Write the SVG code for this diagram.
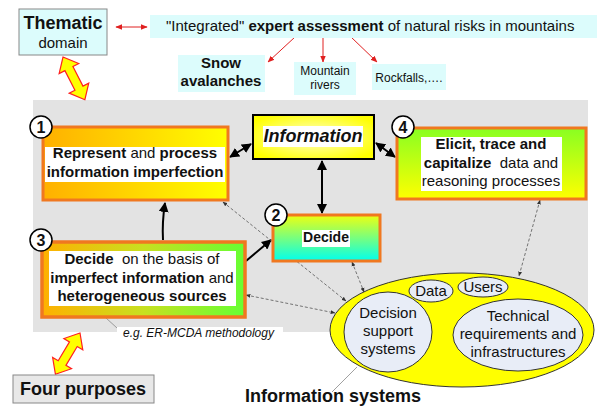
<svg xmlns="http://www.w3.org/2000/svg" width="597" height="408" viewBox="0 0 597 408">
<style>
text{font-family:"Liberation Sans",Arial,sans-serif;fill:#111}
.b{font-weight:bold}
.c{text-anchor:middle}
.cy{fill:#dcfcfc}
.pb{fill:#ffffff}
.ob{stroke:#f07820;stroke-width:3}
.num{fill:#fff;stroke:#000;stroke-width:1.5}
.blk{stroke:#000;stroke-width:2;fill:none;marker-end:url(#ab);marker-start:url(#ab)}
.red{stroke:#e02020;stroke-width:1;fill:none;marker-end:url(#ar)}
.dash{stroke:#555;stroke-width:0.8;stroke-dasharray:3 2;fill:none;marker-end:url(#ad);marker-start:url(#ad)}
.call{stroke:#888;stroke-width:0.8;fill:none}
.inner{fill:#e8edf7;stroke:#333;stroke-width:1}
.fat{fill:#ffff00;stroke:#ff2020;stroke-width:1.2}
</style>
<defs>
<marker id="ab" viewBox="0 0 10 10" refX="9" refY="5" markerWidth="5" markerHeight="5" orient="auto-start-reverse"><path d="M0,0 L10,5 L0,10 z" fill="#000"/></marker>
<marker id="ar" viewBox="0 0 10 10" refX="9" refY="5" markerWidth="7" markerHeight="7" orient="auto-start-reverse"><path d="M0,1 L10,5 L0,9 z" fill="#e02020"/></marker>
<marker id="ad" viewBox="0 0 10 10" refX="9" refY="5" markerWidth="6" markerHeight="6" orient="auto-start-reverse"><path d="M0,1 L10,5 L0,9 z" fill="#333"/></marker>
<linearGradient id="g1" x1="0" y1="0" x2="1" y2="0"><stop offset="0" stop-color="#ffb000"/><stop offset="1" stop-color="#ffff00"/></linearGradient>
<linearGradient id="g3" x1="0" y1="0" x2="1" y2="0"><stop offset="0" stop-color="#ffb000"/><stop offset="0.5" stop-color="#c8e020"/><stop offset="1" stop-color="#66ff33"/></linearGradient>
<linearGradient id="g4" x1="0" y1="0" x2="0" y2="1"><stop offset="0" stop-color="#88ff22"/><stop offset="1" stop-color="#ffff00"/></linearGradient>
<linearGradient id="g2" x1="0" y1="0" x2="0" y2="1"><stop offset="0" stop-color="#eeff10"/><stop offset="1" stop-color="#00ffee"/></linearGradient>
<radialGradient id="gi" cx="0.5" cy="0.5" r="0.6"><stop offset="0" stop-color="#ffffd0"/><stop offset="1" stop-color="#ffff00"/></radialGradient>
<path id="fat" d="M0,0 L13,-11 L13,-4.5 L35,-4.5 L35,-11 L48,0 L35,11 L35,4.5 L13,4.5 L13,11 Z"/>
</defs>

<!-- background -->
<rect x="33" y="100" width="555" height="232" fill="#e3e3e3"/>

<g id="connectors">
  <!-- red top arrows -->
  <line x1="116" y1="27" x2="147" y2="27" class="red" marker-start="url(#ar)"/>
  <line x1="295" y1="37" x2="268" y2="62" class="red"/>
  <line x1="323" y1="37" x2="323" y2="62" class="red"/>
  <line x1="351" y1="37" x2="377" y2="62" class="red"/>
  <!-- fat yellow arrows -->
  <use href="#fat" class="fat" transform="translate(63,57) rotate(62.9)"/>
  <use href="#fat" class="fat" transform="translate(80,333) rotate(120.8)"/>
  <!-- black connectors -->
  <line x1="230" y1="157" x2="251" y2="144" class="blk"/>
  <line x1="376" y1="143" x2="395" y2="157" class="blk"/>
  <line x1="322" y1="161" x2="322" y2="213" class="blk"/>
  <path d="M163,240 Q162,222 165,203" stroke="#000" stroke-width="2" fill="none" marker-end="url(#ab)"/>
  <line x1="246" y1="261" x2="271" y2="240" stroke="#000" stroke-width="2" marker-end="url(#ab)"/>
  <!-- dashed -->
  <line x1="223" y1="202" x2="346" y2="301" class="dash"/>
  <line x1="246" y1="295" x2="335" y2="313" class="dash"/>
  <line x1="352" y1="262" x2="364" y2="292" class="dash"/>
  <line x1="540" y1="200" x2="519" y2="276" class="dash"/>
  <!-- callouts -->
  <line x1="106" y1="318" x2="117" y2="328" class="call"/>
  <line x1="357" y1="367" x2="332" y2="392" class="call"/>
</g>

<g id="thematic">
  <rect x="19" y="9" width="88" height="46" class="cy" stroke="#888" stroke-width="1"/>
  <text x="63" y="29" class="b c" font-size="18">Thematic</text>
  <text x="63" y="48" class="c" font-size="15">domain</text>
</g>

<g id="assessment">
  <rect x="150" y="15" width="447" height="23" class="cy"/>
  <text x="166" y="31" font-size="15">"Integrated" <tspan class="b">expert assessment</tspan> of natural risks in mountains</text>
</g>

<g id="snow">
  <rect x="178" y="55" width="87" height="37" class="cy"/>
  <text x="221" y="68" class="b c" font-size="15">Snow</text>
  <text x="221" y="86" class="b c" font-size="15">avalanches</text>
</g>

<g id="rivers">
  <rect x="294" y="62" width="62" height="33" class="cy"/>
  <text x="325" y="75" class="c" font-size="12">Mountain</text>
  <text x="325" y="89" class="c" font-size="12">rivers</text>
</g>

<g id="rockfalls">
  <rect x="372" y="64" width="74" height="26" class="cy"/>
  <text x="409" y="82" class="c" font-size="12">Rockfalls,….</text>
</g>

<g id="purpose1">
  <rect x="43" y="127" width="185" height="73" fill="url(#g1)" class="ob"/>
  <rect x="45" y="147" width="180" height="35" class="pb"/>
  <text x="135" y="158" class="c" font-size="15"><tspan class="b">Represent</tspan> and <tspan class="b">process</tspan></text>
  <text x="135" y="177" class="b c" font-size="15">information imperfection</text>
  <circle cx="41" cy="127" r="11" class="num"/>
  <text x="41" y="133" class="b c" font-size="16">1</text>
</g>

<g id="information">
  <rect x="253" y="115" width="121" height="44" fill="url(#gi)" stroke="#000" stroke-width="2"/>
  <rect x="263" y="126" width="100" height="21" class="pb"/>
  <text x="313" y="142" class="b c" font-size="18" font-style="italic">Information</text>
</g>

<g id="purpose4">
  <rect x="397" y="128" width="189" height="71" fill="url(#g4)" class="ob"/>
  <rect x="421" y="137" width="141" height="54" class="pb"/>
  <text x="491" y="149" class="b c" font-size="15">Elicit, trace and</text>
  <text x="491" y="168" class="c" font-size="15"><tspan class="b">capitalize</tspan>&#160; data and</text>
  <text x="491" y="186" class="c" font-size="15">reasoning processes</text>
  <circle cx="403" cy="127" r="11" class="num"/>
  <text x="403" y="133" class="b c" font-size="16">4</text>
</g>

<g id="purpose2">
  <rect x="273" y="215" width="107" height="46" fill="url(#g2)" class="ob"/>
  <rect x="302" y="230" width="48" height="17" class="pb"/>
  <text x="326" y="242" class="b c" font-size="14">Decide</text>
  <circle cx="276" cy="215" r="11" class="num"/>
  <text x="276" y="221" class="b c" font-size="16">2</text>
</g>

<g id="purpose3">
  <rect x="42" y="242" width="203" height="75" fill="url(#g3)" stroke="#f07820" stroke-width="3.5"/>
  <rect x="49" y="251" width="187" height="55" class="pb"/>
  <text x="142" y="264" class="c" font-size="15"><tspan class="b">Decide</tspan>&#160; on the basis of</text>
  <text x="142" y="283" class="c" font-size="15"><tspan class="b">imperfect information</tspan> and</text>
  <text x="142" y="301" class="b c" font-size="15">heterogeneous sources</text>
  <circle cx="41" cy="240" r="11" class="num"/>
  <text x="41" y="246" class="b c" font-size="16">3</text>
</g>

<g id="ermcda">
  <rect x="117" y="327" width="166" height="14" class="pb"/>
  <text x="123" y="337" font-size="12" font-style="italic">e.g. ER-MCDA methodology</text>
</g>

<g id="fourpurposes">
  <rect x="13" y="375" width="141" height="28" fill="#e8e8e8" stroke="#888" stroke-width="1"/>
  <text x="83" y="395" class="b c" font-size="18">Four purposes</text>
</g>

<g id="infosystems">
  <ellipse cx="462" cy="330" rx="132" ry="57" fill="#ffff00" stroke="#333" stroke-width="1"/>
  <ellipse cx="388" cy="332" rx="44" ry="40" class="inner"/>
  <text x="388" y="318" class="c" font-size="15">Decision</text>
  <text x="388" y="336" class="c" font-size="15">support</text>
  <text x="388" y="354" class="c" font-size="15">systems</text>
  <ellipse cx="431" cy="291" rx="22" ry="11" class="inner"/>
  <text x="431" y="296" class="c" font-size="15">Data</text>
  <ellipse cx="483" cy="287" rx="25" ry="10" class="inner"/>
  <text x="483" y="292" class="c" font-size="15">Users</text>
  <ellipse cx="518" cy="335" rx="65" ry="36" class="inner"/>
  <text x="518" y="321" class="c" font-size="15">Technical</text>
  <text x="518" y="339" class="c" font-size="15">requirements and</text>
  <text x="518" y="357" class="c" font-size="15">infrastructures</text>
  <text x="333" y="402" class="b c" font-size="18">Information systems</text>
</g>
</svg>
